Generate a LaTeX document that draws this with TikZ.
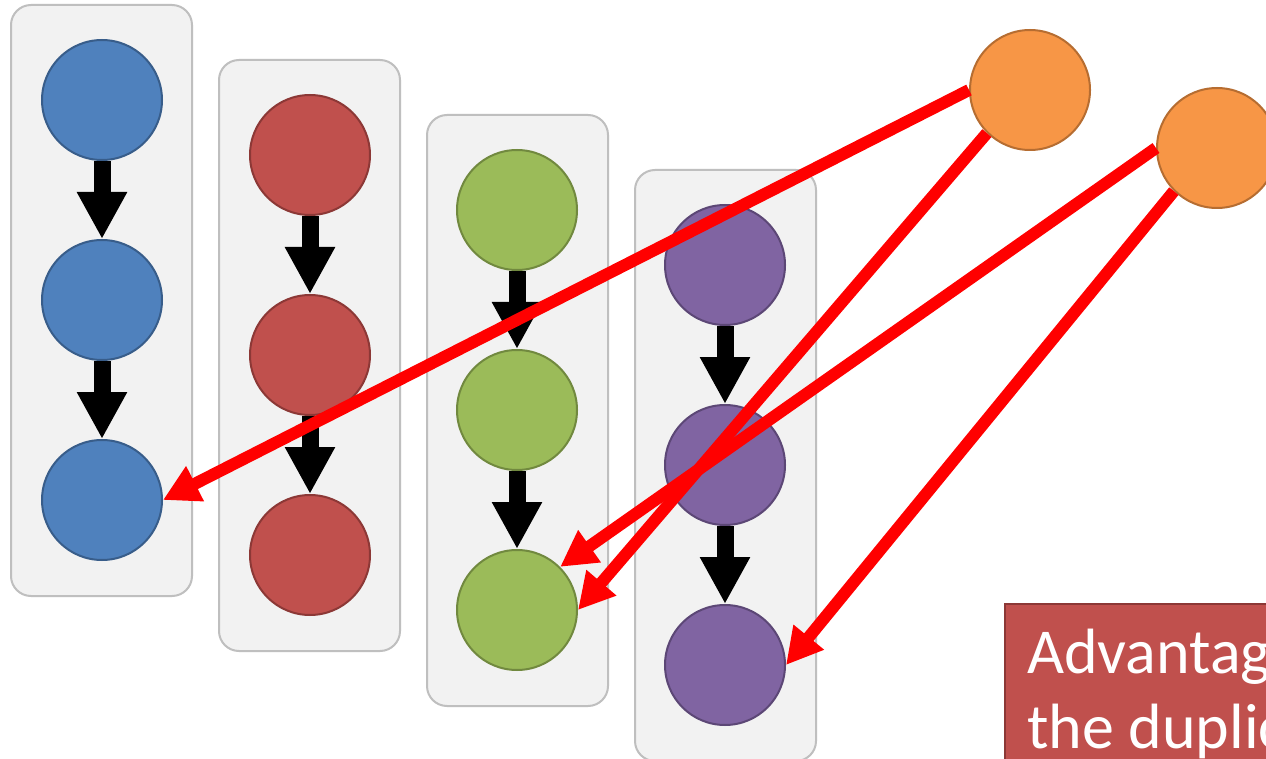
\documentclass[tikz,border=0pt]{standalone}
\usepackage{fontspec}
\newfontfamily\calfont{Carlito}
\usetikzlibrary{arrows.meta}
\definecolor{boxfill}{HTML}{F2F2F2}
\definecolor{boxline}{HTML}{BFBFBF}
\definecolor{bluef}{HTML}{4F81BD}\definecolor{bluel}{HTML}{385D8A}
\definecolor{redf}{HTML}{C0504D}\definecolor{redl}{HTML}{8C3836}
\definecolor{greenf}{HTML}{9BBB59}\definecolor{greenl}{HTML}{71893F}
\definecolor{purplef}{HTML}{8064A2}\definecolor{purplel}{HTML}{5C4776}
\definecolor{orangef}{HTML}{F79646}\definecolor{orangel}{HTML}{B66D31}
\tikzset{
  colbox/.style={draw=boxline, fill=boxfill, line width=2pt, rounded corners=20pt},
  ball/.style={circle, minimum size=120pt, inner sep=0pt, line width=2pt},
  bball/.style={ball, fill=bluef, draw=bluel},
  rball/.style={ball, fill=redf, draw=redl},
  gball/.style={ball, fill=greenf, draw=greenl},
  pball/.style={ball, fill=purplef, draw=purplel},
  oball/.style={ball, fill=orangef, draw=orangel},
  flow/.style={line width=17pt, black, -{Triangle[width=47pt,length=47pt]}},
  link/.style={line width=12pt, red, -{Triangle[width=37pt,length=36pt]}},
  notebox/.style={fill=redf, draw=redl, line width=2pt},
  notetext/.style={anchor=base west, text=white, inner sep=0pt, font=\calfont\fontsize{64}{75}\selectfont}
}
\begin{document}
\begin{tikzpicture}[x=1pt,y=-1pt]
\clip (0,0) rectangle (1266,759);
\fill[white] (0,0) rectangle (1266,759);
% column boxes
\draw[colbox] (11,5) rectangle (192,596);
\draw[colbox] (219,60) rectangle (400,651);
\draw[colbox] (427,115) rectangle (608,706);
\draw[colbox] (635,170) rectangle (816,761);
% circles
\node[bball] (b1) at (102,100) {};
\node[bball] (b2) at (102,300) {};
\node[bball] (b3) at (102,500) {};
\node[rball] (r1) at (310,155) {};
\node[rball] (r2) at (310,355) {};
\node[rball] (r3) at (310,555) {};
\node[gball] (g1) at (517,210) {};
\node[gball] (g2) at (517,410) {};
\node[gball] (g3) at (517,610) {};
\node[pball] (p1) at (725,265) {};
\node[pball] (p2) at (725,465) {};
\node[pball] (p3) at (725,665) {};
\node[oball] (o1) at (1030,90) {};
\node[oball] (o2) at (1217,148) {};
% black arrows
\draw[flow] (b1.south) -- (b2.north);
\draw[flow] (b2.south) -- (b3.north);
\draw[flow] (r1.south) -- (r2.north);
\draw[flow] (r2.south) -- (r3.north);
\draw[flow] (g1.south) -- (g2.north);
\draw[flow] (g2.south) -- (g3.north);
\draw[flow] (p1.south) -- (p2.north);
\draw[flow] (p2.south) -- (p3.north);
% red arrows
\draw[link] (o1.west) -- (b3.east);
\draw[link] (o1.south west) -- (g3.east);
\draw[link] (o2.west) -- (g3.north east);
\draw[link] (o2.south west) -- (p3.east);
% note box
\draw[notebox] (1005,604) rectangle (1290,790);
\node[notetext] (t1) at (1027,673) {Advantag};
\node[notetext] (t2) at (1027,748) {the duplic};
\end{tikzpicture}
\end{document}
